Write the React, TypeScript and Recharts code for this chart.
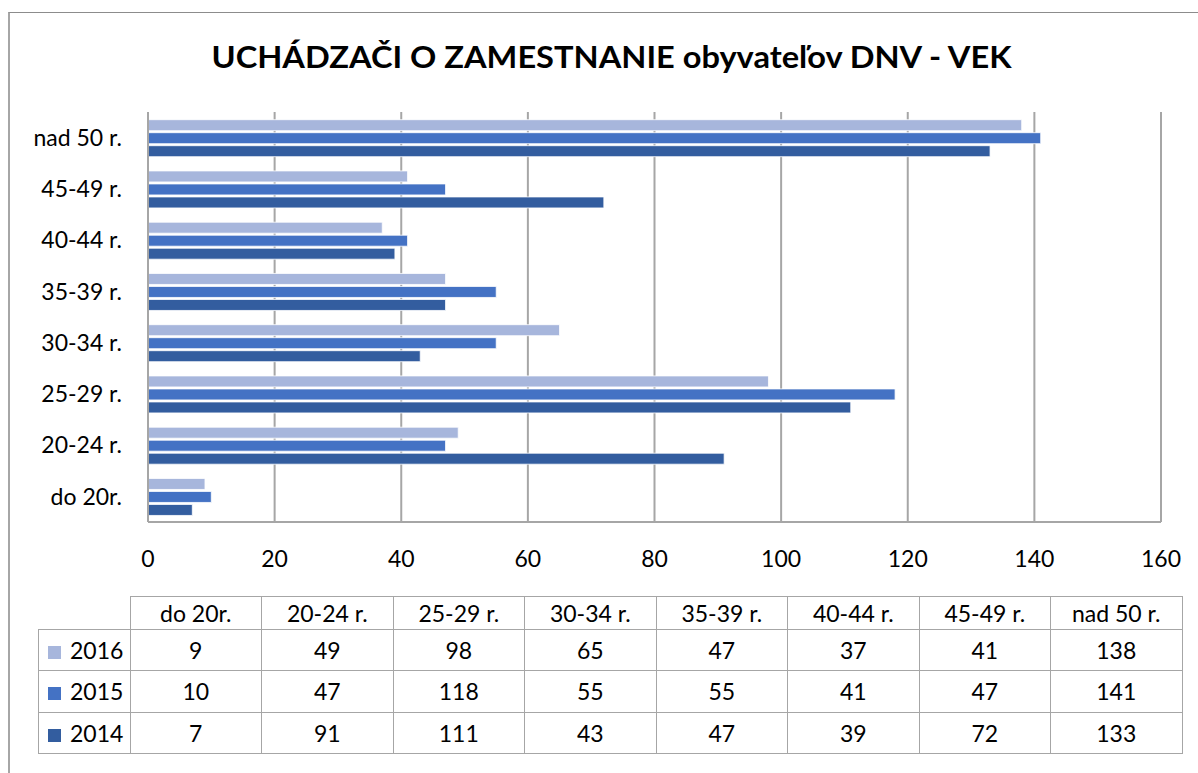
import React from "react";
import { BarChart, Bar, XAxis, YAxis, CartesianGrid } from "recharts";

const categories = ["do 20r.", "20-24 r.", "25-29 r.", "30-34 r.", "35-39 r.", "40-44 r.", "45-49 r.", "nad 50 r."];
const years = ["2016", "2015", "2014"];
const values2016 = [9, 49, 98, 65, 47, 37, 41, 138];
const values2015 = [10, 47, 118, 55, 55, 41, 47, 141];
const values2014 = [7, 91, 111, 43, 47, 39, 72, 133];
const xTicks = [0, 20, 40, 60, 80, 100, 120, 140, 160];

const COLORS: Record<string, string> = { "2016": "#a7b6dc", "2015": "#4472c4", "2014": "#335d9f" };
const seriesValues: Record<string, number[]> = { "2016": values2016, "2015": values2015, "2014": values2014 };

const data = categories.map((c, i) => ({
  name: c,
  "2016": values2016[i],
  "2015": values2015[i],
  "2014": values2014[i],
}));

const FONT = "Lato, 'Open Sans', sans-serif";
const GRID = "#a6a6a6";

export default function App() {
  const cellBorder = `1.5px solid ${GRID}`;
  const colW = 131.5;

  return (
    <div style={{ position: "absolute", left: 0, top: 0, width: 1198, height: 773, overflow: "hidden", background: "#fff", fontFamily: FONT }}>
      {/* frame */}
      <div style={{ position: "absolute", left: 8, top: 12, width: 1250, height: 900, borderLeft: "2px solid #a6a6a6", borderTop: "1.5px solid #8c8c8c" }} />

      {/* title */}
      <svg width={1198} height={100} style={{ position: "absolute", left: 0, top: 0 }}>
        <text x={611.5} y={68} textAnchor="middle" fontFamily={FONT} fontWeight={700} fontSize={30} textLength={800} lengthAdjust="spacingAndGlyphs" fill="#000">
          UCHÁDZAČI O ZAMESTNANIE obyvateľov DNV - VEK
        </text>
      </svg>

      <div style={{ position: "absolute", left: 0, top: 0 }}>
        <BarChart
          width={1198}
          height={600}
          data={data}
          layout="vertical"
          margin={{ top: 112, right: 37, bottom: 28, left: 0 }}
          barCategoryGap="15%"
          barGap={2}
        >
          <CartesianGrid horizontal={false} vertical={true} stroke={GRID} strokeWidth={2} />
          <XAxis
            type="number"
            domain={[0, 160]}
            ticks={xTicks}
            interval={0}
            height={50}
            axisLine={{ stroke: GRID, strokeWidth: 2 }}
            tickLine={false}
            tickMargin={23}
            tick={{ fill: "#000", fontSize: 23, fontFamily: FONT }}
          />
          <YAxis
            type="category"
            dataKey="name"
            reversed
            width={148}
            axisLine={{ stroke: GRID, strokeWidth: 2 }}
            tickLine={false}
            tickMargin={20}
            tick={{ fill: "#000", fontSize: 23, fontFamily: FONT }}
          />
          {years.map((y) => (
            <Bar key={y} dataKey={y} fill={COLORS[y]} stroke="#fff" strokeWidth={0.8} isAnimationActive={false} />
          ))}
        </BarChart>
      </div>

      {/* data table */}
      <table
        style={{
          position: "absolute",
          left: 38,
          top: 596,
          borderCollapse: "collapse",
          tableLayout: "fixed",
          fontFamily: FONT,
          fontSize: 23,
          color: "#000",
        }}
      >
        <colgroup>
          <col style={{ width: 91.5 }} />
          {categories.map((c) => (
            <col key={c} style={{ width: colW }} />
          ))}
        </colgroup>
        <tbody>
          <tr style={{ height: 32.5 }}>
            <td style={{ padding: 0 }} />
            {categories.map((c) => (
              <td key={c} style={{ border: cellBorder, textAlign: "center", padding: 0, lineHeight: "30px" }}>
                {c}
              </td>
            ))}
          </tr>
          {years.map((y) => (
            <tr key={y} style={{ height: 41.5 }}>
              <td style={{ border: cellBorder, padding: 0, whiteSpace: "nowrap" }}>
                <span style={{ display: "inline-block", width: 13, height: 13, background: COLORS[y], marginLeft: 9, marginRight: 9 }} />
                {y}
              </td>
              {seriesValues[y].map((v, i) => (
                <td key={i} style={{ border: cellBorder, textAlign: "center", padding: 0 }}>
                  {v}
                </td>
              ))}
            </tr>
          ))}
        </tbody>
      </table>
    </div>
  );
}
